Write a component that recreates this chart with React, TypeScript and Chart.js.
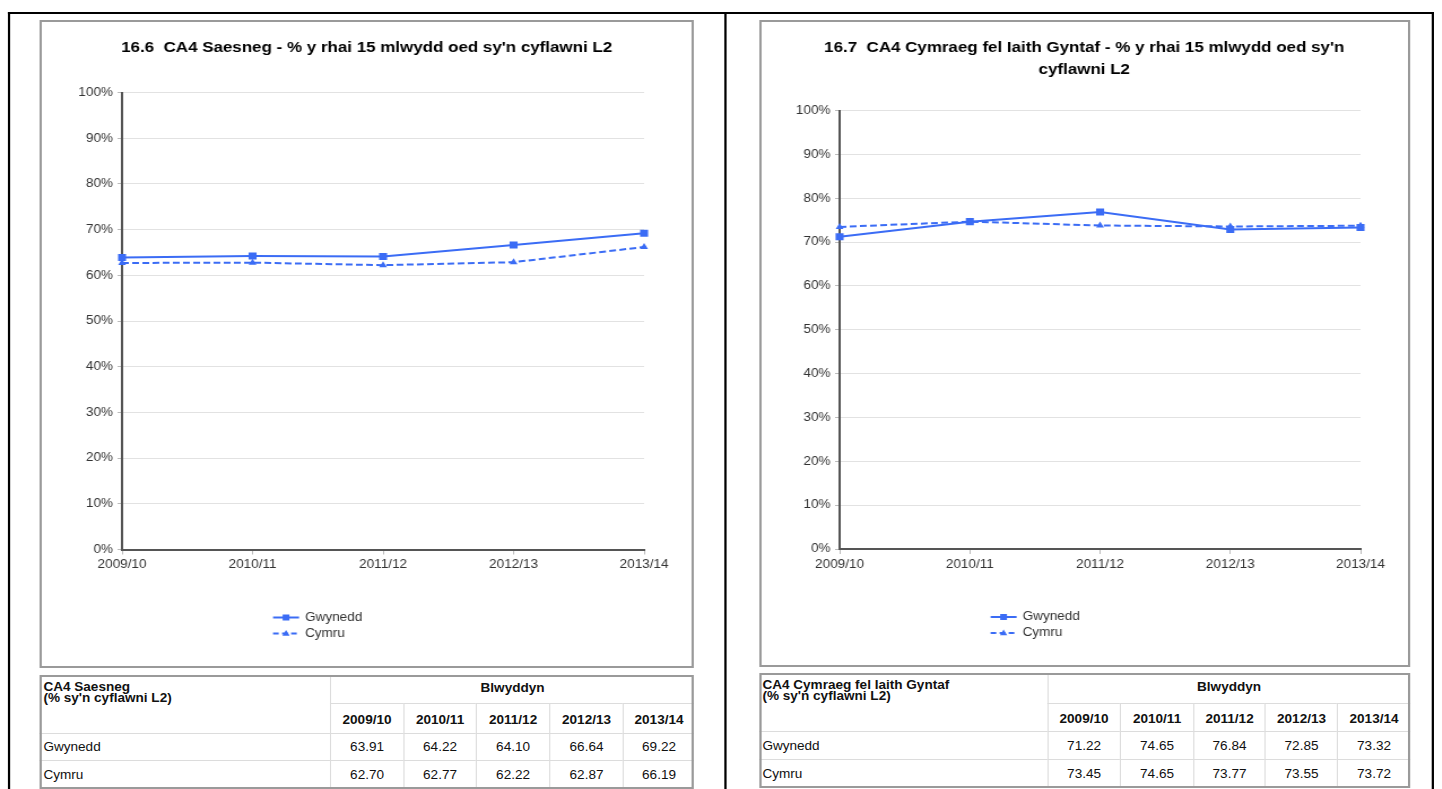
import React, { useEffect, useRef } from 'react';
import { Chart, registerables } from 'chart.js';

Chart.register(...registerables);

// The reference rendering is horizontally stretched; we lay out in unstretched units and scale X.
const S = 1.13;
const X = (v: number) => v / S;

const FONT = "Arial, 'Liberation Sans', Helvetica, sans-serif";
const BLUE = '#3b6cf5';

const years = ['2009/10', '2010/11', '2011/12', '2012/13', '2013/14'];
const seriesNames = ['Gwynedd', 'Cymru'];

const saesnegGwynedd = [63.91, 64.22, 64.1, 66.64, 69.22];
const saesnegCymru = [62.7, 62.77, 62.22, 62.87, 66.19];

const cymraegGwynedd = [71.22, 74.65, 76.84, 72.85, 73.32];
const cymraegCymru = [73.45, 74.65, 73.77, 73.55, 73.72];

const titleSaesneg = "16.6  CA4 Saesneg - % y rhai 15 mlwydd oed sy'n cyflawni L2";
const titleCymraeg = ["16.7  CA4 Cymraeg fel Iaith Gyntaf - % y rhai 15 mlwydd oed sy'n", 'cyflawni L2'];

const tableHeadSaesneg = ['CA4 Saesneg', "(% sy'n cyflawni L2)"];
const tableHeadCymraeg = ['CA4 Cymraeg fel Iaith Gyntaf', "(% sy'n cyflawni L2)"];
const tableYearHeading = 'Blwyddyn';

const lineLegend = {
  id: 'lineLegend',
  afterDraw(chart: any) {
    const { ctx, chartArea } = chart;
    const x0 = chartArea.left + X(151);
    chart.data.datasets.forEach((ds: any, i: number) => {
      const y = chartArea.bottom + 68 + i * 16;
      ctx.save();
      ctx.strokeStyle = ds.borderColor;
      ctx.lineWidth = 2;
      ctx.setLineDash(ds.borderDash ? [5, 3] : []);
      ctx.beginPath();
      ctx.moveTo(x0, y);
      ctx.lineTo(x0 + X(26), y);
      ctx.stroke();
      ctx.setLineDash([]);
      ctx.fillStyle = ds.borderColor;
      const cx = x0 + X(13);
      if (ds.pointStyle === 'rect') {
        ctx.fillRect(cx - 3, y - 3, 6, 6);
      } else {
        ctx.beginPath();
        ctx.moveTo(cx, y - 3.5);
        ctx.lineTo(cx + 3.2, y + 2.2);
        ctx.lineTo(cx - 3.2, y + 2.2);
        ctx.closePath();
        ctx.fill();
      }
      ctx.fillStyle = '#333';
      ctx.font = `12px ${FONT}`;
      ctx.textBaseline = 'middle';
      ctx.textAlign = 'left';
      ctx.fillText(ds.label, x0 + X(32), y);
      ctx.restore();
    });
  },
};

type PanelProps = {
  boxLeft: number;
  boxTop: number;
  boxW: number;
  boxH: number;
  canvasW: number;
  canvasH: number;
  title: string | string[];
  gwynedd: number[];
  cymru: number[];
  yAxisW: number;
  rightPad: number;
  titlePadBottom: number;
  bottomPad: number;
};

function ChartPanel(p: PanelProps) {
  const ref = useRef<HTMLCanvasElement>(null);
  useEffect(() => {
    if (!ref.current) return;
    const chart = new Chart(ref.current, {
      type: 'line',
      data: {
        labels: years,
        datasets: [
          {
            label: seriesNames[0],
            data: p.gwynedd,
            borderColor: BLUE,
            backgroundColor: BLUE,
            borderWidth: 2,
            pointStyle: 'rect',
            pointRadius: 5,
            pointBorderWidth: 0,
            tension: 0,
          },
          {
            label: seriesNames[1],
            data: p.cymru,
            borderColor: BLUE,
            backgroundColor: BLUE,
            borderWidth: 2,
            borderDash: [6, 3],
            pointStyle: 'triangle',
            pointRadius: 4,
            pointBorderWidth: 0,
            tension: 0,
          },
        ],
      },
      options: {
        responsive: false,
        animation: false,
        devicePixelRatio: 1,
        layout: { padding: { left: 0, right: 0, top: 0, bottom: p.bottomPad } },
        plugins: {
          legend: { display: false },
          tooltip: { enabled: false },
          title: {
            display: true,
            text: p.title,
            color: '#000',
            font: { family: FONT, size: 15, weight: 'bold', lineHeight: 22 / 15 },
            padding: { top: 15, bottom: p.titlePadBottom },
          },
        },
        scales: {
          x: {
            type: 'category',
            offset: false,
            grid: { drawOnChartArea: false, drawTicks: true, tickLength: 5, tickColor: '#bbb' },
            border: { color: '#555', width: 2 },
            ticks: { font: { family: FONT, size: 12 }, color: '#333', padding: 3, maxRotation: 0, autoSkip: false },
            afterFit: (scale: any) => {
              scale.height = 30;
            },
          },
          y: {
            position: 'left',
            min: 0,
            max: 100,
            grid: { color: '#e2e2e2', lineWidth: 1, tickLength: 4, tickColor: '#bbb' },
            border: { color: '#555', width: 2 },
            ticks: {
              stepSize: 10,
              font: { family: FONT, size: 12 },
              color: '#333',
              padding: 4,
              callback: (v: any) => `${v}%`,
            },
            afterFit: (scale: any) => {
              scale.width = p.yAxisW;
            },
          },
          // empty spacer axis on the right, so the title stays centred on the whole canvas
          spacer: {
            type: 'linear',
            position: 'right',
            grid: { display: false, drawOnChartArea: false },
            border: { display: false },
            ticks: { display: false },
            afterFit: (scale: any) => {
              scale.width = p.rightPad;
            },
          },
        },
      } as any,
      plugins: [lineLegend],
    });
    return () => chart.destroy();
  }, []);

  return (
    <>
      <div
        style={{
          position: 'absolute',
          left: X(p.boxLeft),
          top: p.boxTop,
          width: X(p.boxW),
          height: p.boxH,
          border: '2px solid #9a9a9a',
          boxSizing: 'border-box',
          background: '#fff',
        }}
      />
      <canvas
        ref={ref}
        width={p.canvasW}
        height={p.canvasH}
        style={{ position: 'absolute', left: X(p.boxLeft + 2), top: p.boxTop + 2 }}
      />
    </>
  );
}

type TableProps = {
  cols: number[];
  rows: number[];
  heading: string[];
  gwynedd: number[];
  cymru: number[];
};

function DataTable({ cols, rows, heading, gwynedd, cymru }: TableProps) {
  const line = '1px solid #dcdcdc';
  const cell = (
    key: string,
    c0: number,
    c1: number,
    r0: number,
    r1: number,
    content: React.ReactNode,
    extra: React.CSSProperties = {}
  ) => (
    <div
      key={key}
      style={{
        position: 'absolute',
        left: X(cols[c0]),
        top: rows[r0],
        width: X(cols[c1] - cols[c0]),
        height: rows[r1] - rows[r0],
        boxSizing: 'border-box',
        borderLeft: c0 > 0 ? line : 'none',
        borderTop: r0 > 0 ? line : 'none',
        display: 'flex',
        alignItems: 'center',
        justifyContent: 'center',
        fontFamily: FONT,
        fontSize: 12,
        color: '#111',
        whiteSpace: 'nowrap',
        ...extra,
      }}
    >
      {content}
    </div>
  );
  const cells: React.ReactNode[] = [];
  cells.push(
    cell(
      'head',
      0,
      1,
      0,
      2,
      <div>
        {heading.map((h, i) => (
          <div key={i}>{h}</div>
        ))}
      </div>,
      {
        alignItems: 'flex-start',
        justifyContent: 'flex-start',
        fontWeight: 700,
        lineHeight: '11px',
        paddingTop: 7,
        paddingLeft: 3,
      }
    )
  );
  cells.push(cell('blw', 1, 6, 0, 1, tableYearHeading, { fontWeight: 700, paddingBottom: 3 }));
  years.forEach((y, i) => {
    cells.push(cell('y' + i, i + 1, i + 2, 1, 2, y, { fontWeight: 700, paddingTop: 3 }));
  });
  [gwynedd, cymru].forEach((vals, r) => {
    cells.push(
      cell('l' + r, 0, 1, r + 2, r + 3, seriesNames[r], { justifyContent: 'flex-start', paddingLeft: 3 })
    );
    vals.forEach((v, i) => {
      cells.push(cell(`v${r}-${i}`, i + 1, i + 2, r + 2, r + 3, v.toFixed(2)));
    });
  });
  return (
    <>
      {cells}
      <div
        style={{
          position: 'absolute',
          left: X(cols[0]),
          top: rows[0],
          width: X(cols[cols.length - 1] - cols[0]),
          height: rows[rows.length - 1] - rows[0],
          border: '2px solid #9a9a9a',
          boxSizing: 'border-box',
          pointerEvents: 'none',
        }}
      />
    </>
  );
}

export default function App() {
  return (
    <div
      style={{
        position: 'absolute',
        left: 0,
        top: 0,
        width: X(1442),
        height: 789,
        overflow: 'hidden',
        transform: `scaleX(${S})`,
        transformOrigin: '0 0',
        background: '#fff',
      }}
    >
      <div
        style={{
          position: 'absolute',
          left: X(8),
          top: 12,
          width: X(1426),
          height: 800,
          borderTop: '2px solid #000',
          borderLeft: '2px solid #000',
          borderRight: '2px solid #000',
          boxSizing: 'border-box',
        }}
      />
      <div style={{ position: 'absolute', left: X(724), top: 12, width: 2, height: 800, background: '#000' }} />

      <ChartPanel
        boxLeft={40}
        boxTop={20}
        boxW={654}
        boxH={648}
        canvasW={575}
        canvasH={644}
        title={titleSaesneg}
        gwynedd={saesnegGwynedd}
        cymru={saesnegCymru}
        yAxisW={71}
        rightPad={42}
        titlePadBottom={33.5}
        bottomPad={86.5}
      />
      <ChartPanel
        boxLeft={759}
        boxTop={20}
        boxW={651}
        boxH={647}
        canvasW={573}
        canvasH={643}
        title={titleCymraeg}
        gwynedd={cymraegGwynedd}
        cymru={cymraegCymru}
        yAxisW={70}
        rightPad={42}
        titlePadBottom={29.5}
        bottomPad={86}
      />

      <DataTable
        cols={[40, 330, 403, 476, 549, 623, 694]}
        rows={[675, 703, 733, 760, 789]}
        heading={tableHeadSaesneg}
        gwynedd={saesnegGwynedd}
        cymru={saesnegCymru}
      />
      <DataTable
        cols={[759, 1047, 1120, 1193, 1265, 1337, 1410]}
        rows={[673, 703, 731, 759, 788]}
        heading={tableHeadCymraeg}
        gwynedd={cymraegGwynedd}
        cymru={cymraegCymru}
      />
    </div>
  );
}
